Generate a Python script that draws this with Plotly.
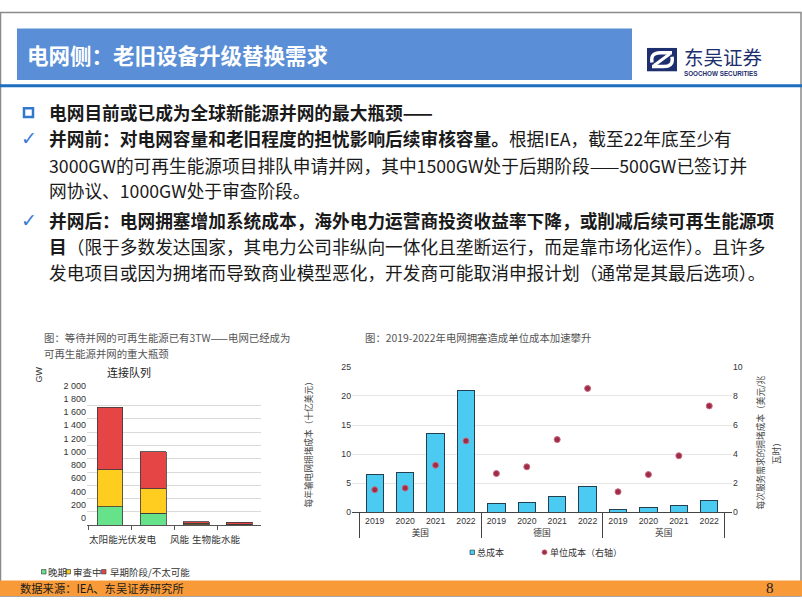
import plotly.graph_objects as go

W, H = 802, 602
def px(x): return x / W
def py(y): return 1 - y / H

CJK = "Noto Sans CJK SC"
SANS = "Liberation Sans, Noto Sans CJK SC"

# ---------------- Left chart data (connection queue, GW) ----------------
queue_categories = ["太阳能光伏发电", "风能", "生物能", "水能"]
queue_late = [280, 182, 5, 2]          # 晚期
queue_review = [555, 368, 25, 8]       # 审查中
queue_early = [944, 556, 24, 34]       # 早期阶段/不太可能
queue_tickvals = [0, 200, 400, 600, 800, 1000, 1200, 1400, 1600, 1800, 2000]
queue_ticktext = ["0", "200", "400", "600", "800", "1 000", "1 200", "1 400", "1 600", "1 800", "2 000"]

# ---------------- Right chart data (congestion cost) ----------------
countries = ["美国"] * 4 + ["德国"] * 4 + ["英国"] * 4
years = ["2019", "2020", "2021", "2022"] * 3
total_cost = [6.5, 6.8, 13.5, 20.9, 1.55, 1.78, 2.72, 4.5, 0.44, 0.78, 1.22, 2.1]   # 十亿美元
unit_cost = [1.56, 1.67, 3.24, 4.91, 2.67, 3.13, 5.0, 8.51, 1.42, 2.6, 3.89, 7.31]   # 美元/兆瓦时

GREEN, YELLOW, RED = "#66E38A", "#FFCD1F", "#E54545"
CYAN, DOT = "#4CCBF2", "#9E2B48"

fig = go.Figure()
for name, vals, col in [("晚期", queue_late, GREEN), ("审查中", queue_review, YELLOW),
                        ("早期阶段/不太可能", queue_early, RED)]:
    fig.add_trace(go.Bar(x=queue_categories, y=vals, name=name, marker_color=col,
                         marker_line=dict(color="#3a3a3a", width=0.8), width=0.6,
                         xaxis="x", yaxis="y", showlegend=False))

fig.add_trace(go.Bar(x=[countries, years], y=total_cost, name="总成本", marker_color=CYAN,
                     marker_line=dict(color="#24404e", width=1), width=0.57,
                     xaxis="x2", yaxis="y2", showlegend=False))
fig.add_trace(go.Scatter(x=[countries, years], y=unit_cost, name="单位成本（右轴）", mode="markers",
                         marker=dict(color=DOT, size=6, line=dict(color="#C86A80", width=1)),
                         xaxis="x2", yaxis="y3", showlegend=False))

def sq(x0, yc, s, fill, line="#444"):
    return dict(type="rect", xref="paper", yref="paper", x0=px(x0), x1=px(x0 + s),
                y0=py(yc + s / 2), y1=py(yc - s / 2), fillcolor=fill, line=dict(color=line, width=0.7))

shapes = [
    # slide frame
    dict(type="rect", xref="paper", yref="paper", x0=px(0.5), x1=px(801), y0=py(601), y1=py(0.5),
         line=dict(color="#8a8a8a", width=1.5), layer="below"),
    # header box
    dict(type="rect", xref="paper", yref="paper", x0=px(17), x1=px(632), y0=py(70), y1=py(17),
         fillcolor="#5A8ED6", line_width=0, layer="below"),
    # header rule
    dict(type="line", xref="paper", yref="paper", x0=0, x1=1, y0=py(76), y1=py(76),
         line=dict(color="#1E6EC0", width=3)),
    # logo icon
    dict(type="rect", xref="paper", yref="paper", x0=px(647), x1=px(677), y0=py(61), y1=py(37),
         fillcolor="#1D2F6E", line_width=0),
    dict(type="path", xref="paper", yref="paper",
         path=f"M {px(652)},{py(52)} Q {px(650)},{py(41)} {px(662)},{py(42)} L {px(672)},{py(42)}",
         line=dict(color="white", width=3.5)),
    dict(type="path", xref="paper", yref="paper",
         path=f"M {px(672)},{py(46)} Q {px(674)},{py(57)} {px(662)},{py(56)} L {px(652)},{py(56)}",
         line=dict(color="white", width=3.5)),
    dict(type="line", xref="paper", yref="paper", x0=px(654), x1=px(670), y0=py(55), y1=py(43),
         line=dict(color="white", width=3)),
    # bullet square
    dict(type="rect", xref="paper", yref="paper", x0=px(24), x1=px(33), y0=py(108), y1=py(99),
         line=dict(color="#2F78CC", width=2.5)),
    # footer bar
    dict(type="rect", xref="paper", yref="paper", x0=0, x1=1, y0=py(601), y1=py(585),
         fillcolor="#F99A38", line_width=0, layer="below"),
    # legend swatches
    sq(41.5, 576, 4.5, GREEN), sq(66, 576, 4.5, YELLOW), sq(101.5, 576, 4.5, RED),
    sq(470, 556, 4.5, CYAN, "#24404e"),
    dict(type="circle", xref="paper", yref="paper", x0=px(542), x1=px(547), y0=py(558.5), y1=py(553.5),
         fillcolor=DOT, line=dict(color="#C86A80", width=0.8)),
]

ann = []
def text(x, y, s, size, color="#1a1a1a", family=CJK, xanchor="left", angle=0, **kw):
    ann.append(dict(xref="paper", yref="paper", x=px(x), y=py(y), text=s, showarrow=False,
                    xanchor=xanchor, yanchor="middle", textangle=angle,
                    font=dict(size=size, color=color, family=family), **kw))

# header
text(25, 44, "<b>电网侧：老旧设备升级替换需求</b>", 21.5, color="white")
text(682, 46, "东吴证券", 19.5, color="#1D2F6E")
text(682, 63, "<b>SOOCHOW SECURITIES</b>", 6.3, color="#1D2F6E", family="Liberation Sans")

# body text
BS = 17.7
text(47, 103, "<b>电网目前或已成为全球新能源并网的最大瓶颈——</b>", BS)
text(19, 130, "✓", 19, color="#3A7BD5", family="DejaVu Sans")
text(47, 130, "<b>并网前：对电网容量和老旧程度的担忧影响后续审核容量。</b>根据IEA，截至22年底至少有", BS)
text(47, 157, "3000GW的可再生能源项目排队申请并网，其中1500GW处于后期阶段——500GW已签订并", BS)
text(47, 183, "网协议、1000GW处于审查阶段。", BS)
text(19, 214, "✓", 19, color="#3A7BD5", family="DejaVu Sans")
text(47, 214, "<b>并网后：电网拥塞增加系统成本，海外电力运营商投资收益率下降，或削减后续可再生能源项</b>", BS)
text(47, 241, "<b>目</b>（限于多数发达国家，其电力公司非纵向一体化且垄断运行，而是靠市场化运作）。且许多", BS)
text(47, 268, "发电项目或因为拥堵而导致商业模型恶化，开发商可能取消申报计划（通常是其最后选项）。", BS)

# left chart texts
text(42, 335, "图：等待并网的可再生能源已有3TW——电网已经成为", 10.4, color="#555")
text(42, 351, "可再生能源并网的重大瓶颈", 10.4, color="#555")
text(129, 370, "连接队列", 11, color="#222", xanchor="center")
text(39, 373, "GW", 9, color="#333", family=SANS, xanchor="center", angle=-90)
label_shift = [13, 27, 10, -8]
for c, sh in zip(queue_categories, label_shift):
    ann.append(dict(xref="x", yref="paper", x=c, y=py(542), text=c, showarrow=False,
                    xanchor="center", yanchor="middle", xshift=sh,
                    font=dict(size=9.6, color="#333", family=CJK)))
text(46, 576, "晚期", 9.5, color="#333")
text(71, 576, "审查中", 9.5, color="#333")
text(107.5, 576, "早期阶段/不太可能", 9.5, color="#333")

# right chart texts
text(363, 335, "图：2019-2022年电网拥塞造成单位成本加速攀升", 10.4, color="#555")
text(308, 443, "每年输电网拥堵成本（十亿美元）", 8.7, color="#444", xanchor="center", angle=-90)
text(760, 443, "每次服务需求的拥堵成本（美元/兆", 8.7, color="#444", xanchor="center", angle=-90)
text(776, 452, "瓦时）", 8.7, color="#444", xanchor="center", angle=-90)
text(475, 556, "总成本", 9, color="#333")
text(548, 556, "单位成本（右轴）", 9, color="#333")

# footer
text(18, 593, "数据来源：IEA、东吴证券研究所", 11.3, color="#1a1a1a")
text(770, 593, "8", 15, color="#1a1a1a", family="Liberation Serif", xanchor="center")

fig.update_layout(
    width=W, height=H, margin=dict(l=0, r=0, t=0, b=0),
    paper_bgcolor="white", plot_bgcolor="white",
    barmode="stack", showlegend=False,
    font=dict(family=SANS, size=9, color="#333"),
    shapes=shapes, annotations=ann,
    xaxis=dict(domain=[px(87), px(261)], anchor="y", type="category",
               showticklabels=False, ticks="outside", tickson="boundaries", ticklen=4,
               tickcolor="#555", showline=True, linecolor="#555", linewidth=1,
               showgrid=False, fixedrange=True),
    yaxis=dict(domain=[py(528), py(391.5)], anchor="x", range=[0, 2000],
               tickvals=queue_tickvals, ticktext=queue_ticktext, ticklabelshift=-7,
               tickfont=dict(size=9, color="#333"), showgrid=True, gridcolor="#DADADA",
               zeroline=False, showline=False, ticks=""),
    xaxis2=dict(domain=[px(352), px(732)], anchor="y2", type="multicategory",
                showline=True, linecolor="#444", linewidth=1, ticks="", tickangle=0,
                showdividers=True, dividercolor="#444", dividerwidth=1,
                tickfont=dict(size=8.7, color="#333"), showgrid=False),
    yaxis2=dict(domain=[py(515), py(365)], anchor="x2", range=[0, 25], dtick=5,
                tickfont=dict(size=8.7, color="#333"), showgrid=True, gridcolor="#E6E6E6",
                zeroline=False, showline=False, ticks=""),
    yaxis3=dict(overlaying="y2", anchor="x2", side="right", range=[0, 10], dtick=2,
                tickfont=dict(size=8.7, color="#333"), showgrid=False, zeroline=False,
                showline=False, ticks=""),
)

fig.write_html("out.html", config={"displayModeBar": False},
               post_script="document.body.style.margin='0px';document.body.style.overflow='hidden';")
